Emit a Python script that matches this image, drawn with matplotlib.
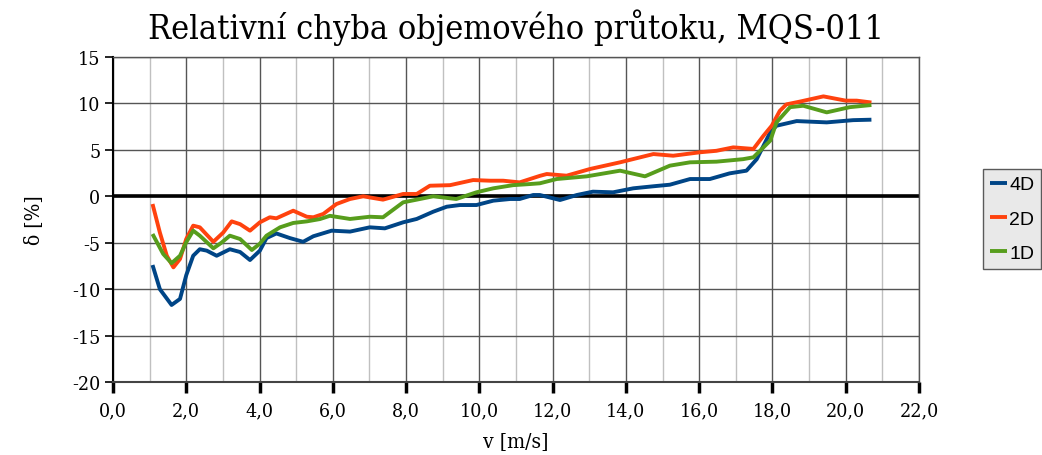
import matplotlib
matplotlib.use("Agg")
import matplotlib.pyplot as plt
from matplotlib.ticker import MultipleLocator, FuncFormatter

title = "Relativní chyba objemového průtoku, MQS-011"
xlabel = "v [m/s]"
ylabel = "δ [%]"

x_4d = [1.08, 1.28, 1.6, 1.83, 2.0, 2.19, 2.37, 2.56, 2.83, 3.19, 3.47, 3.74, 4.01, 4.19,
        4.46, 4.83, 5.19, 5.47, 5.97, 6.47, 7.01, 7.42, 7.92, 8.29, 8.74, 9.11, 9.47, 9.92,
        10.38, 10.84, 11.1, 11.47, 11.65, 12.2, 12.66, 13.1, 13.65, 14.2, 14.75, 15.2,
        15.75, 16.29, 16.83, 17.29, 17.57, 17.94, 18.11, 18.66, 19.48, 20.2, 20.7]
y_4d = [-7.4, -10.0, -11.7, -11.05, -8.5, -6.4, -5.7, -5.85, -6.4, -5.7, -6.0, -6.86, -5.85, -4.5,
        -4.0, -4.5, -4.9, -4.3, -3.7, -3.8, -3.34, -3.45, -2.8, -2.44, -1.66, -1.12, -0.94, -0.94,
        -0.47, -0.29, -0.29, 0.14, 0.14, -0.4, 0.14, 0.5, 0.43, 0.86, 1.08, 1.25,
        1.86, 1.86, 2.47, 2.76, 4.0, 6.9, 7.6, 8.1, 7.96, 8.2, 8.25]

x_2d = [1.08, 1.28, 1.47, 1.65, 1.83, 2.0, 2.19, 2.37, 2.74, 3.01, 3.24, 3.47, 3.74, 4.01,
        4.28, 4.46, 4.92, 5.29, 5.47, 5.74, 6.1, 6.47, 6.83, 7.37, 7.92, 8.29, 8.65, 9.2,
        9.83, 10.29, 10.65, 11.1, 11.65, 11.84, 12.38, 13.02, 13.84, 14.75, 15.29, 16.02,
        16.47, 16.93, 17.48, 17.75, 17.98, 18.2, 18.38, 18.75, 19.39, 20.0, 20.3, 20.7]
y_2d = [-0.83, -3.9, -6.4, -7.65, -6.75, -4.6, -3.16, -3.34, -4.9, -3.9, -2.7, -3.0, -3.7, -2.8,
        -2.26, -2.37, -1.55, -2.2, -2.26, -1.9, -0.83, -0.29, 0.0, -0.36, 0.25, 0.25, 1.14, 1.2,
        1.75, 1.68, 1.68, 1.5, 2.2, 2.4, 2.22, 2.94, 3.66, 4.55, 4.37, 4.74,
        4.9, 5.27, 5.1, 6.5, 7.6, 9.2, 9.9, 10.2, 10.76, 10.3, 10.3, 10.1]

x_1d = [1.08, 1.37, 1.6, 1.83, 2.0, 2.19, 2.37, 2.74, 2.96, 3.19, 3.47, 3.79, 4.01, 4.19,
        4.56, 4.92, 5.29, 5.65, 5.92, 6.47, 7.01, 7.37, 7.92, 8.29, 8.74, 9.37, 9.92, 10.38,
        10.92, 11.38, 11.65, 12.11, 12.93, 13.84, 14.52, 15.2, 15.75, 16.47, 17.2, 17.48,
        17.94, 18.11, 18.48, 18.84, 19.48, 20.11, 20.7]
y_1d = [-4.06, -6.2, -7.2, -6.4, -4.95, -3.7, -4.24, -5.6, -5.0, -4.24, -4.6, -5.78, -5.1, -4.24,
        -3.34, -2.87, -2.7, -2.45, -2.1, -2.44, -2.2, -2.26, -0.65, -0.36, 0.0, -0.29, 0.43, 0.86,
        1.2, 1.32, 1.4, 1.86, 2.15, 2.76, 2.15, 3.3, 3.66, 3.73, 4.0, 4.2,
        6.0, 7.96, 9.6, 9.75, 9.04, 9.6, 9.83]

series = [("4D", x_4d, y_4d, "#004586"),
          ("2D", x_2d, y_2d, "#ff420e"),
          ("1D", x_1d, y_1d, "#579d1c")]

fig = plt.figure(figsize=(10.42, 4.56), dpi=100)
ax = fig.add_axes([0.1084, 0.160, 0.7736, 0.7128])

ax.set_xlim(0, 22)
ax.set_ylim(-20, 15)
ax.xaxis.set_major_locator(MultipleLocator(2))
ax.xaxis.set_minor_locator(MultipleLocator(1))
ax.yaxis.set_major_locator(MultipleLocator(5))
ax.xaxis.set_major_formatter(FuncFormatter(lambda v, p: f"{v:.1f}".replace(".", ",")))
ax.yaxis.set_major_formatter(FuncFormatter(lambda v, p: f"{int(round(v))}"))

ax.grid(which="major", axis="both", color="#555555", linewidth=1.0, zorder=0)
ax.grid(which="minor", axis="x", color="#c0c0c0", linewidth=1.0, zorder=0)
ax.set_axisbelow(True)

ax.axhline(0, color="black", linewidth=2.6, zorder=2)

for name, xs, ys, c in series:
    ax.plot(xs, ys, color=c, linewidth=2.8, label=name, solid_joinstyle="round",
            solid_capstyle="butt", zorder=3)

for s in ["top", "right"]:
    ax.spines[s].set_color("#555555")
    ax.spines[s].set_linewidth(1.0)
ax.spines["left"].set_color("black")
ax.spines["left"].set_linewidth(1.5)
ax.spines["bottom"].set_color("#444444")
ax.spines["bottom"].set_linewidth(1.5)

serif = "DejaVu Serif"
ax.tick_params(axis="x", which="major", direction="out", length=8, width=2.5,
               color="black", labelsize=14, pad=6)
ax.tick_params(axis="x", which="minor", length=0)
ax.tick_params(axis="y", which="major", direction="out", length=6, width=1.2,
               color="black", labelsize=14, pad=3)
for lab in ax.get_xticklabels() + ax.get_yticklabels():
    lab.set_fontfamily(serif)
    lab.set_fontstretch("condensed")

ax.set_title(title, fontsize=24.5, family=serif, fontstretch="condensed", pad=14)
ax.set_xlabel(xlabel, fontsize=15, family=serif, fontstretch="condensed", labelpad=9)
ax.set_ylabel(ylabel, fontsize=15, family=serif, fontstretch="condensed", labelpad=20)

leg = fig.legend(loc="upper left", bbox_to_anchor=(983 / 1042, 1 - 170 / 456),
                 prop={"family": "Liberation Sans", "size": 14}, frameon=True,
                 fancybox=False, handlelength=0.9, handletextpad=0.1,
                 borderpad=0.35, labelspacing=0.85, borderaxespad=0)
leg.get_frame().set_facecolor("#e4e4e4")
leg.get_frame().set_edgecolor("#333333")
leg.get_frame().set_linewidth(1.0)

fig.savefig("out.png", dpi=100)
